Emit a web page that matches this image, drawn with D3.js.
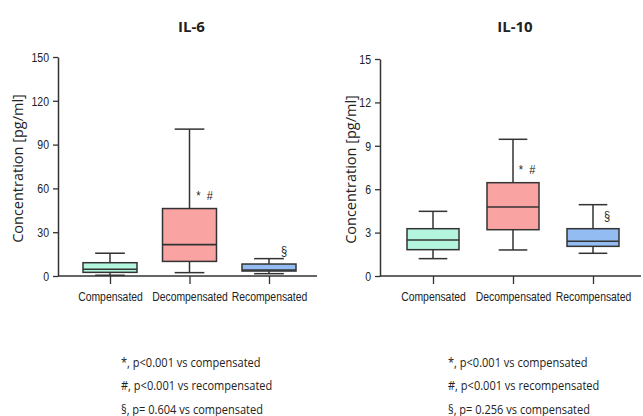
<!DOCTYPE html>
<html>
<head>
<meta charset="utf-8">
<script src="https://cdn.jsdelivr.net/npm/d3@7/dist/d3.min.js"></script>
<style>
  html, body { margin: 0; padding: 0; background: #fff; }
  svg { display: block; }
</style>
</head>
<body>
<svg id="chart" width="643" height="416"></svg>
<script>
// Groups shown on the x axis
const groups = ["Compensated", "Decompensated", "Recompensated"];
const groupColors = ["#b4f5dd", "#f9a3a3", "#92bcf2"];

// IL-6 box summaries: [whisker low, Q1, median, Q3, whisker high] (pg/ml)
const il6Low    = [0.5, 2.3, 1.6];
const il6Q1     = [2.5, 10.0, 3.4];
const il6Median = [4.6, 21.5, 4.1];
const il6Q3     = [9.1, 46.2, 8.2];
const il6High   = [15.6, 100.6, 11.9];
const il6Ticks  = [0, 30, 60, 90, 120, 150];

// IL-10 box summaries (pg/ml)
const il10Low    = [1.2, 1.8, 1.57];
const il10Q1     = [1.82, 3.2, 2.05];
const il10Median = [2.49, 4.77, 2.4];
const il10Q3     = [3.27, 6.45, 3.27];
const il10High   = [4.47, 9.45, 4.93];
const il10Ticks  = [0, 3, 6, 9, 12, 15];

// Significance marks above boxes
const il6Marks  = [null, "* #", "§"];
const il10Marks = [null, "* #", "§"];

// Footnotes
const il6Notes  = ["*, p<0.001 vs compensated", "#, p<0.001 vs recompensated", "§, p= 0.604 vs compensated"];
const il10Notes = ["*, p<0.001 vs compensated", "#, p<0.001 vs recompensated", "§, p= 0.256 vs compensated"];

const svg = d3.select("#chart");
const axisFont = "'Liberation Sans', Arial, sans-serif";
const textFont = "'Open Sans', 'Noto Sans', sans-serif";
const ink = "#333";

// horizontal squeeze for a narrow face; keeps the anchor point in place
function squeeze(sel, f) {
  sel.each(function () {
    const t = d3.select(this);
    const x = +t.attr("x") || 0;
    t.attr("x", x / f).attr("transform", `scale(${f},1)`);
  });
}

function panel(opts) {
  const { title, x0, x1, c0, c2, yTop, yBottom, ticks, low, q1, med, q3, high, marks, notes, ylabelX, noteX, boxW } = opts;
  const g = svg.append("g");

  const y = d3.scaleLinear().domain([0, d3.max(ticks)]).range([yBottom, yTop]);
  const x = d3.scalePoint().domain(groups).range([c0, c2]);

  // title
  g.append("text")
    .attr("x", (c0 + c2) / 2 + 2).attr("y", 32)
    .attr("text-anchor", "middle")
    .style("font-family", textFont).style("font-weight", "bold").style("font-size", "15px")
    .attr("fill", "#222")
    .text(title);

  // y axis
  const yAxis = d3.axisLeft(y).tickValues(ticks).tickSize(5).tickPadding(4).tickSizeOuter(0);
  const ya = g.append("g").attr("transform", `translate(${x0},0)`).call(yAxis);
  ya.select(".domain").attr("stroke", ink).attr("stroke-width", 1.5);
  ya.selectAll(".tick line").attr("stroke", ink).attr("stroke-width", 1.3);
  ya.selectAll(".tick text").style("font-family", axisFont).style("font-size", "13.5px").attr("fill", "#222")
    .call(squeeze, 0.78);

  // x axis: ticks at group centres, baseline drawn across the panel
  const xAxis = d3.axisBottom(x).tickSize(8).tickPadding(7).tickSizeOuter(0);
  const xa = g.append("g").attr("transform", `translate(0,${yBottom})`).call(xAxis);
  xa.select(".domain").remove();
  xa.append("line").attr("x1", x0).attr("x2", x1).attr("y1", 0).attr("y2", 0)
    .attr("stroke", ink).attr("stroke-width", 1.5);
  xa.selectAll(".tick line").attr("stroke", ink).attr("stroke-width", 1.3);
  xa.selectAll(".tick text").style("font-family", axisFont).style("font-size", "13.5px").attr("fill", "#222")
    .call(squeeze, 0.77);

  // y label
  g.append("text")
    .attr("transform", `translate(${ylabelX},${(yTop + yBottom) / 2 + 2}) rotate(-90)`)
    .attr("text-anchor", "middle").attr("dy", "0.35em")
    .style("font-family", textFont).style("font-size", "14.5px").attr("fill", "#222")
    .text("Concentration [pg/ml]");

  // boxes
  groups.forEach((grp, i) => {
    const cx = x(grp);
    const bg = g.append("g");
    const capW = boxW * 0.55;
    // whiskers
    bg.append("line").attr("x1", cx).attr("x2", cx).attr("y1", y(high[i])).attr("y2", y(q3[i]))
      .attr("stroke", ink).attr("stroke-width", 1.5);
    bg.append("line").attr("x1", cx).attr("x2", cx).attr("y1", y(q1[i])).attr("y2", y(low[i]))
      .attr("stroke", ink).attr("stroke-width", 1.5);
    bg.append("line").attr("x1", cx - capW / 2).attr("x2", cx + capW / 2).attr("y1", y(high[i])).attr("y2", y(high[i]))
      .attr("stroke", ink).attr("stroke-width", 1.5);
    bg.append("line").attr("x1", cx - capW / 2).attr("x2", cx + capW / 2).attr("y1", y(low[i])).attr("y2", y(low[i]))
      .attr("stroke", ink).attr("stroke-width", 1.5);
    // box
    bg.append("rect").attr("x", cx - boxW / 2).attr("y", y(q3[i]))
      .attr("width", boxW).attr("height", y(q1[i]) - y(q3[i]))
      .attr("fill", groupColors[i]).attr("stroke", ink).attr("stroke-width", 1.5);
    // median
    bg.append("line").attr("x1", cx - boxW / 2).attr("x2", cx + boxW / 2).attr("y1", y(med[i])).attr("y2", y(med[i]))
      .attr("stroke", ink).attr("stroke-width", 1.6);
    // significance
    if (marks[i]) {
      g.append("text")
        .attr("x", cx + boxW / 2 - 12).attr("y", y(q3[i]) - 9)
        .attr("text-anchor", "middle")
        .style("font-family", axisFont).style("font-size", "13px").style("white-space", "pre")
        .attr("fill", "#222")
        .text(marks[i].replace(" ", "  "))
        .call(squeeze, 0.85);
    }
  });

  // footnotes
  notes.forEach((n, k) => {
    g.append("text").attr("x", noteX).attr("y", 367 + k * 23.5)
      .style("font-family", textFont).style("font-size", "12px").attr("fill", "#222")
      .text(n)
      .call(squeeze, 0.92);
  });
}

panel({
  title: "IL-6", x0: 58, x1: 317, c0: 110, c2: 269, yTop: 57, yBottom: 276, ticks: il6Ticks,
  low: il6Low, q1: il6Q1, med: il6Median, q3: il6Q3, high: il6High,
  marks: il6Marks, notes: il6Notes, ylabelX: 18, noteX: 121, boxW: 54
});

panel({
  title: "IL-10", x0: 380, x1: 641, c0: 433, c2: 593, yTop: 59, yBottom: 276, ticks: il10Ticks,
  low: il10Low, q1: il10Q1, med: il10Median, q3: il10Q3, high: il10High,
  marks: il10Marks, notes: il10Notes, ylabelX: 351, noteX: 448, boxW: 52
});
</script>
</body>
</html>
